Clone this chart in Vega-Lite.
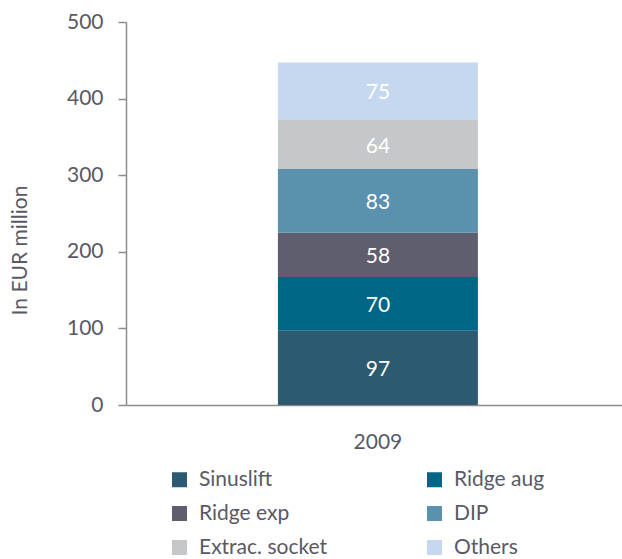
{
  "$schema": "https://vega.github.io/schema/vega-lite/v6.json",
  "autosize": "none",
  "width": 510,
  "height": 383,
  "padding": {"left": 126, "top": 22, "right": 0, "bottom": 154},
  "background": "white",
  "config": {
    "view": {"stroke": null},
    "font": "Lato",
    "text": {"font": "Lato"}
  },
  "data": {
    "values": [
      {"year": "2009", "segment": "Sinuslift", "value": 97, "order": 1},
      {"year": "2009", "segment": "Ridge aug", "value": 70, "order": 2},
      {"year": "2009", "segment": "Ridge exp", "value": 58, "order": 3},
      {"year": "2009", "segment": "DIP", "value": 83, "order": 4},
      {"year": "2009", "segment": "Extrac. socket", "value": 64, "order": 5},
      {"year": "2009", "segment": "Others", "value": 75, "order": 6}
    ]
  },
  "transform": [
    {"stack": "value", "groupby": ["year"], "sort": [{"field": "order"}], "as": ["v0", "v1"]},
    {"calculate": "(datum.v0 + datum.v1) / 2", "as": "mid"}
  ],
  "encoding": {
    "x": {
      "field": "year",
      "type": "nominal",
      "scale": {"paddingInner": 0, "paddingOuter": 0.775, "align": 0.49},
      "axis": {
        "title": null,
        "labelAngle": 0,
        "ticks": false,
        "labelPadding": 26,
        "labelFontSize": 21,
        "labelColor": "#595966",
        "domainColor": "#8c8c8c",
        "domainWidth": 1.5
      }
    }
  },
  "layer": [
    {
      "mark": {"type": "bar"},
      "encoding": {
        "y": {
          "field": "v1",
          "type": "quantitative",
          "scale": {"domain": [0, 500]},
          "axis": {
            "values": [0, 100, 200, 300, 400, 500],
            "grid": false,
            "tickSize": 8,
            "tickColor": "#8c8c8c",
            "tickWidth": 1.5,
            "domainColor": "#8c8c8c",
            "domainWidth": 1.5,
            "labelPadding": 15,
            "labelFontSize": 21,
            "labelColor": "#595966",
            "title": "In EUR million",
            "titleFontSize": 21,
            "titleFontWeight": "normal",
            "titleColor": "#595966",
            "titleAngle": -90,
            "titleX": -106,
            "titleY": 228,
            "titleAlign": "center",
            "titleBaseline": "middle"
          }
        },
        "y2": {"field": "v0"},
        "color": {
          "field": "segment",
          "type": "nominal",
          "scale": {
            "domain": ["Sinuslift", "Ridge exp", "Extrac. socket", "Ridge aug", "DIP", "Others"],
            "range": ["#2c5a70", "#5f5e6e", "#c5c8ca", "#006685", "#5991ae", "#c6d8f0"]
          },
          "legend": {
            "title": null,
            "orient": "none",
            "legendX": 43,
            "legendY": 447,
            "columns": 2,
            "columnPadding": 96,
            "rowPadding": 12,
            "symbolType": "square",
            "symbolSize": 225,
            "symbolStrokeWidth": 0,
            "labelFontSize": 21,
            "labelColor": "#595966",
            "labelOffset": 9,
            "labelLimit": 300
          }
        }
      }
    },
    {
      "mark": {"type": "text", "color": "white", "fontSize": 21, "baseline": "middle", "align": "center", "dy": 2},
      "encoding": {
        "y": {"field": "mid", "type": "quantitative"},
        "text": {"field": "value", "type": "quantitative"}
      }
    }
  ]
}
